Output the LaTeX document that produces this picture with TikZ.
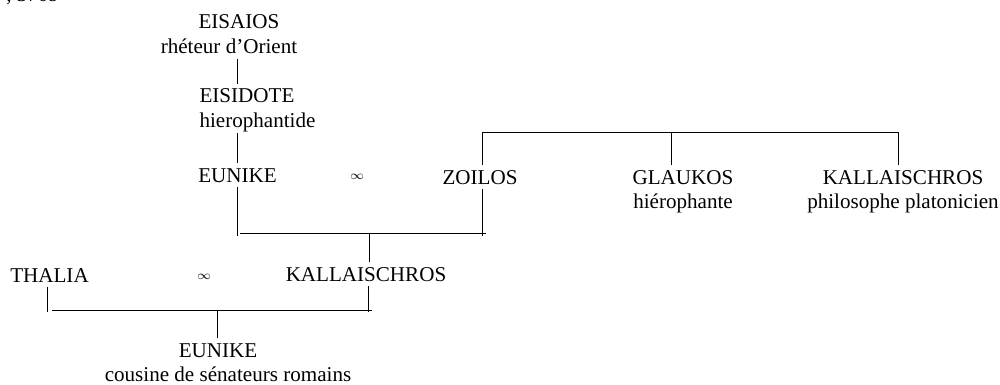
\documentclass[tikz,border=0pt]{standalone}
\usepackage{fontspec}
\setmainfont{Liberation Serif}
\usetikzlibrary{positioning}
\tikzset{
  person/.style={font=\fontsize{12}{14}\selectfont, inner xsep=0pt, inner ysep=0.1cm, text height=0.28cm, text depth=0pt, anchor=base},
  note/.style={person, anchor=north},
  wed/.style={font=\fontsize{7}{8}\selectfont, inner sep=0pt},
  link/.style={draw=black, line width=0.5pt}
}
\begin{document}
\begin{tikzpicture}[x=0.02cm, y=-0.02cm]
  \useasboundingbox (0,0) rectangle (1000,385);

  \node[person, anchor=base west] (ref) at (6,1.5) {, 3709};
  \node[person] (eisaios) at (239,29) {EISAIOS};
  \node[note, below=0pt of eisaios, xshift=-0.2cm] (rheteur) {rhéteur d’Orient};
  \node[person] (eisidote) at (247,103) {EISIDOTE};
  \node[note, below=0pt of eisidote, xshift=0.21cm] (hieroph) {hierophantide};
  \node[person] (eunike) at (237.5,182) {EUNIKE};
  \node[wed] (wedtop) at (357,177) {$\infty$};
  \node[person] (zoilos) at (480,184) {ZOILOS};
  \node[person] (glaukos) at (683,184) {GLAUKOS};
  \node[note, below=0pt of glaukos] (hierophante) {hiérophante};
  \node[person] (kallphil) at (903,184) {KALLAISCHROS};
  \node[note, below=0pt of kallphil] (platon) {philosophe platonicien};
  \node[person] (thalia) at (49.5,282) {THALIA};
  \node[wed] (wedlow) at (204,277) {$\infty$};
  \node[person] (kallaischros) at (366,281) {KALLAISCHROS};
  \node[person] (eunikejr) at (218,357) {EUNIKE};
  \node[note, below=0pt of eunikejr, xshift=0.2cm] (cousine) {cousine de sénateurs romains};

  \coordinate (lineA) at (237,0);
  \coordinate (barL) at (240,233);
  \coordinate (barR) at (486,233);
  \coordinate (sibL) at (482,132);
  \coordinate (sibR) at (898,132);
  \coordinate (gx) at (671,132);
  \coordinate (cx) at (369,233);
  \coordinate (lowL) at (52,310);
  \coordinate (lowR) at (372,310);
  \coordinate (tx) at (47,312);
  \coordinate (kx) at (368,312);
  \coordinate (ex) at (217,310);

  \draw[link] (lineA |- rheteur.south) -- (lineA |- eisidote.north);
  \draw[link] (lineA |- hieroph.south) -- (lineA |- eunike.north);
  \draw[link] (barL) -- (barR);
  \draw[link, shorten >=-0.06cm] (eunike.south) -- (eunike.south |- barL);
  \draw[link, shorten >=-0.06cm] (sibL |- zoilos.south) -- (sibL |- barR);
  \draw[link] (sibL) -- (sibR);
  \draw[link] (sibL) -- (sibL |- zoilos.north);
  \draw[link] (gx) -- (gx |- glaukos.north);
  \draw[link] (sibR) -- (sibR |- kallphil.north);
  \draw[link] (cx) -- (cx |- kallaischros.north);
  \draw[link] (lowL) -- (lowR);
  \draw[link] (tx |- thalia.south) -- (tx);
  \draw[link] (kx |- kallaischros.south) -- (kx);
  \draw[link] (ex) -- (ex |- eunikejr.north);
\end{tikzpicture}
\end{document}
